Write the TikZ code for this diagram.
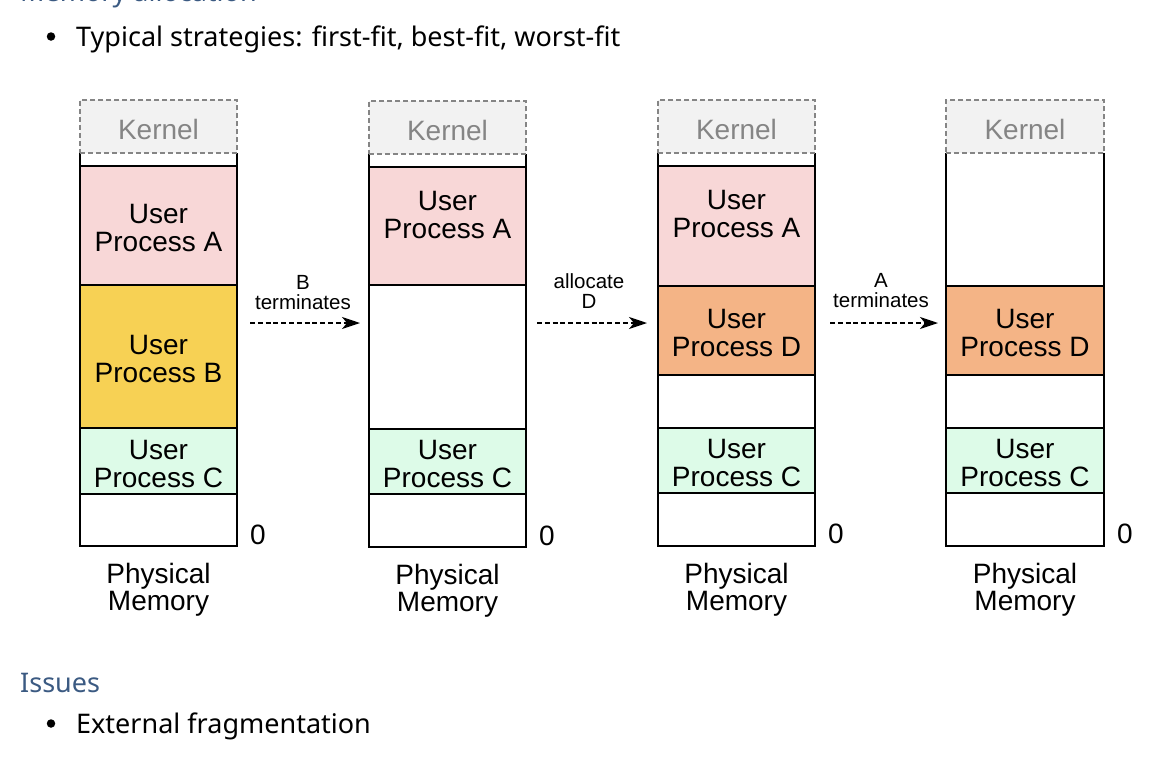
\documentclass[tikz,border=0pt]{standalone}
\usepackage{fontspec}
\setmainfont{Noto Sans}
\newfontfamily\arialf{Liberation Sans}
\usetikzlibrary{arrows.meta}
\definecolor{headblue}{HTML}{3B5A82}
\definecolor{procA}{HTML}{F8D7D7}
\definecolor{procB}{HTML}{F7D154}
\definecolor{procC}{HTML}{DDFBE8}
\definecolor{procD}{HTML}{F4B486}
\definecolor{kfill}{HTML}{F2F2F2}
\definecolor{kgray}{HTML}{858585}
\tikzset{
  seg/.style={draw=black, line width=2pt, minimum width=157pt, inner sep=0pt,
    align=center, font=\arialf\fontsize{28}{28}\selectfont},
  kern/.style={draw=kgray, dash pattern=on 5pt off 3pt, line width=1.8pt, fill=kfill,
    minimum width=157pt, minimum height=53pt, inner sep=0pt,
    font=\arialf\fontsize{28}{28}\selectfont, text=kgray},
  frame/.style={draw=black, line width=2pt},
  boxtxt/.style={align=center, inner sep=0pt, font=\arialf\fontsize{28}{28}\selectfont},
  lbl/.style={align=center, inner sep=0pt, font=\arialf\fontsize{28}{27}\selectfont},
  small/.style={align=center, inner sep=0pt, font=\arialf\fontsize{20.5}{19.5}\selectfont},
  arr/.style={line width=1.6pt, dash pattern=on 5pt off 2.8pt,
    -{Stealth[length=18pt,width=12pt,inset=5pt]}},
  body/.style={anchor=base west, inner sep=0pt, font=\fontsize{27}{30}\selectfont},
  bullet/.style={circle, fill=black, inner sep=0pt, minimum size=8.5pt},
  head/.style={anchor=base west, inner sep=0pt, text=headblue, font=\fontsize{27}{30}\selectfont},
}
\begin{document}
\begin{tikzpicture}[x=1pt,y=-1pt]
\useasboundingbox (0,0) rectangle (1156,758);
\clip (0,0) rectangle (1156,758);

% page text
\node[head] (h1) at (20,1) {Memory allocation};
\node[bullet] (b1) at (51,36.5) {};
\node[body] (t1) at (76,46) {Typical strategies: first-fit, best-fit, worst-fit};
\node[head] (h2) at (20,692) {Issues};
\node[bullet] (b2) at (51,723.5) {};
\node[body] (t2) at (76,733) {External fragmentation};

% ---------- column 1
\draw[frame] (80,153) -- (80,546) -- (237,546) -- (237,153);
\node[seg, fill=procA, minimum height=119pt] (a1) at (158.5,225.5) {};
\node[boxtxt] (ta1) at (158.5,228) {User\\Process A};
\node[seg, fill=procB, minimum height=143pt] (bb1) at (158.5,356.5) {};
\node[boxtxt] (tb1) at (158.5,359) {User\\Process B};
\node[seg, fill=procC, minimum height=66pt] (c1) at (158.5,461) {};
\node[boxtxt] (tc1) at (158.5,464) {User\\Process C};
\node[kern] (k1) at (158.5,126.5) {};
\node[boxtxt, text=kgray] (tk1) at (158.5,129) {Kernel};
\node[lbl] (z1) at (258,535) {0};
\node[lbl] (p1) at (158.5,590) {Physical\\Memory};

% ---------- column 2
\draw[frame] (369,154) -- (369,547) -- (526,547) -- (526,154);
\node[seg, fill=procA, minimum height=118pt] (a2) at (447.5,226) {};
\node[boxtxt] (ta2) at (447.5,215) {User\\Process A};
\node[seg, fill=procC, minimum height=65pt] (c2) at (447.5,461.5) {};
\node[boxtxt] (tc2) at (447.5,464) {User\\Process C};
\node[kern] (k2) at (447.5,127.5) {};
\node[boxtxt, text=kgray] (tk2) at (447.5,130) {Kernel};
\node[lbl] (z2) at (547,536) {0};
\node[lbl] (p2) at (447.5,591) {Physical\\Memory};

% ---------- column 3
\draw[frame] (658,153) -- (658,546) -- (815,546) -- (815,153);
\node[seg, fill=procA, minimum height=120pt] (a3) at (736.5,226) {};
\node[boxtxt] (ta3) at (736.5,214) {User\\Process A};
\node[seg, fill=procD, minimum height=89pt] (d3) at (736.5,330.5) {};
\node[boxtxt] (td3) at (736.5,333) {User\\Process D};
\node[seg, fill=procC, minimum height=65pt] (c3) at (736.5,460.5) {};
\node[boxtxt] (tc3) at (736.5,462.5) {User\\Process C};
\node[kern] (k3) at (736.5,126.5) {};
\node[boxtxt, text=kgray] (tk3) at (736.5,129) {Kernel};
\node[lbl] (z3) at (836,534) {0};
\node[lbl] (p3) at (736.5,590) {Physical\\Memory};

% ---------- column 4
\draw[frame] (946,153) -- (946,546) -- (1104,546) -- (1104,153);
\node[seg, fill=procD, minimum width=158pt, minimum height=89pt] (d4) at (1025,330.5) {};
\node[boxtxt] (td4) at (1025,333) {User\\Process D};
\node[seg, fill=procC, minimum width=158pt, minimum height=65pt] (c4) at (1025,460.5) {};
\node[boxtxt] (tc4) at (1025,462.5) {User\\Process C};
\node[kern, minimum width=158pt] (k4) at (1025,126.5) {};
\node[boxtxt, text=kgray] (tk4) at (1025,129) {Kernel};
\node[lbl] (z4) at (1125,534) {0};
\node[lbl] (p4) at (1025,590) {Physical\\Memory};

% ---------- transitions
\coordinate (s1) at (250,323); \coordinate (e1) at (360,323);
\coordinate (s2) at (537,323); \coordinate (e2) at (647,323);
\coordinate (s3) at (830,323); \coordinate (e3) at (938,323);
\draw[arr] (s1) -- (e1);
\draw[arr] (s2) -- (e2);
\draw[arr] (s3) -- (e3);
\node[small] (l1) at (303,292.5) {B\\terminates};
\node[small] (l2) at (589,291) {allocate\\D};
\node[small] (l3) at (881,290.5) {A\\terminates};
\end{tikzpicture}
\end{document}
